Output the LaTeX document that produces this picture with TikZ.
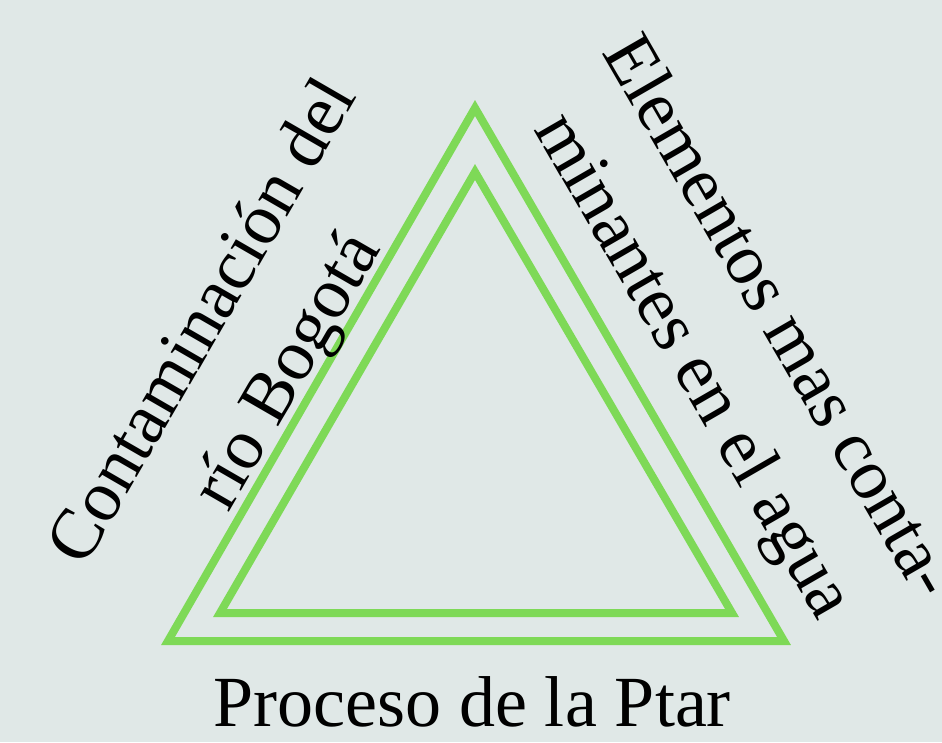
\documentclass[tikz,border=0pt]{standalone}
\usepackage{fontspec}
\setmainfont{Liberation Serif}
\definecolor{fondo}{RGB}{224,232,231}
\definecolor{verde}{RGB}{126,217,87}
\tikzset{
	lado/.style={draw=verde, line width=8pt, line join=miter},
	rotulo/.style={align=center, inner sep=0pt, font=\fontsize{72}{97}\selectfont}
}

\begin{document}
\begin{tikzpicture}[x=1pt, y=-1pt]
			%%%%% START %%%%%
			
			\useasboundingbox (0, 0) rectangle (942, 742);
			\fill[fondo] (0, 0) rectangle (942, 742);
			
			\draw[lado] (475, 108) -- (784, 641) -- (168, 641) -- cycle;
			\draw[lado] (475, 172) -- (732, 613) -- (220, 613) -- cycle;
			
			\node[rotulo, rotate=60] (contaminacion) at (248, 348) {Contaminación del\\río Bogotá};
			\node[rotulo, rotate=-60] (elementos) at (733, 343) {Elementos mas conta-\\minantes en el agua};
			\node[rotulo, anchor=base] (proceso) at (472, 726) {Proceso de la Ptar};
			
			%%%%% END %%%%%
		\end{tikzpicture}
\end{document}
